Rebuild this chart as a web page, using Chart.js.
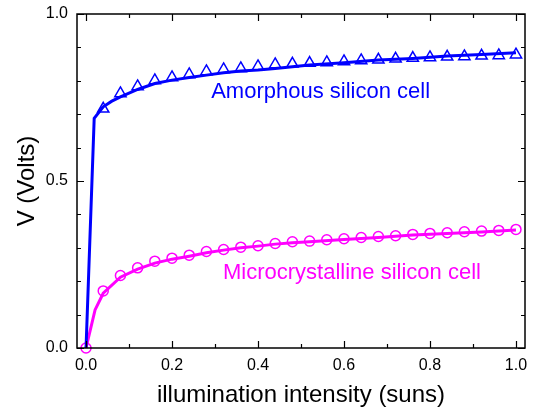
<!DOCTYPE html>
<html>
<head>
<meta charset="utf-8">
<script src="https://cdn.jsdelivr.net/npm/chart.js@4.4.1/dist/chart.umd.min.js"></script>
<style>
  html, body { margin: 0; padding: 0; background: #fff; }
</style>
</head>
<body>
<canvas id="chart" width="533" height="410"></canvas>
<script>
// measured points (illumination in suns, voltage in volts)
const amorphX = [0.04, 0.08, 0.12, 0.16, 0.20, 0.24, 0.28, 0.32, 0.36, 0.40, 0.44, 0.48, 0.52,
                 0.56, 0.60, 0.64, 0.68, 0.72, 0.76, 0.80, 0.84, 0.88, 0.92, 0.96, 1.00];
const amorphV = [0.716, 0.762, 0.783, 0.801, 0.810, 0.819, 0.828, 0.834, 0.837, 0.843, 0.849, 0.851, 0.853,
                 0.855, 0.858, 0.861, 0.863, 0.866, 0.868, 0.870, 0.872, 0.873, 0.875, 0.876, 0.878];

const microX = [0.00, 0.04, 0.08, 0.12, 0.16, 0.20, 0.24, 0.28, 0.32, 0.36, 0.40, 0.44, 0.48,
                0.52, 0.56, 0.60, 0.64, 0.68, 0.72, 0.76, 0.80, 0.84, 0.88, 0.92, 0.96, 1.00];
const microV = [0.000, 0.171, 0.217, 0.240, 0.260, 0.269, 0.278, 0.289, 0.295, 0.302, 0.306, 0.313, 0.318,
                0.320, 0.324, 0.327, 0.331, 0.334, 0.336, 0.340, 0.343, 0.345, 0.348, 0.350, 0.352, 0.355];

// fitted curves
const amorphFitX = [0, 0.019, 0.04, 0.06, 0.08, 0.12, 0.16, 0.20, 0.24, 0.28, 0.32, 0.36, 0.40,
                    0.44, 0.48, 0.52, 0.60, 0.68, 0.76, 0.84, 0.92, 1.00];
const amorphFitV = [0, 0.688, 0.722, 0.739, 0.752, 0.774, 0.792, 0.802, 0.810, 0.817, 0.824, 0.829, 0.832,
                    0.837, 0.842, 0.847, 0.854, 0.862, 0.867, 0.874, 0.879, 0.884];

const microFitX = [0, 0.021, 0.04, 0.08, 0.12, 0.16, 0.20, 0.24, 0.28, 0.32, 0.36, 0.40, 0.44,
                   0.48, 0.52, 0.60, 0.68, 0.76, 0.84, 0.92, 1.00];
const microFitV = [0, 0.114, 0.164, 0.212, 0.236, 0.254, 0.266, 0.275, 0.285, 0.293, 0.300, 0.305, 0.311,
                   0.315, 0.318, 0.325, 0.331, 0.338, 0.343, 0.347, 0.353];

// axis ticks
const xTickValues = [0, 0.2, 0.4, 0.6, 0.8, 1.0];
const xMinorValues = [0.1, 0.3, 0.5, 0.7, 0.9];
const yTickValues = [0, 0.5, 1.0];
const yMinorValues = [0.1, 0.2, 0.3, 0.4, 0.6, 0.7, 0.8, 0.9];

const BLUE = '#0000ff';
const MAGENTA = '#ff00ff';
const FONT = '"Liberation Sans", Arial, Helvetica, sans-serif';

function pts(xs, ys) {
    return xs.map((x, i) => ({ x: x, y: ys[i] }));
}

function noPad(s) {
    s.paddingTop = 0;
    s.paddingBottom = 0;
    s.paddingLeft = 0;
    s.paddingRight = 0;
}

// frame, inward ticks and curve labels
const framePlugin = {
    id: 'framePlugin',
    afterDatasetsDraw(chart, args, opts) {
        const { ctx, chartArea: a, scales: { x, y } } = chart;
        ctx.save();
        ctx.strokeStyle = '#000';
        ctx.lineWidth = 1.5;
        ctx.strokeRect(a.left, a.top, a.right - a.left, a.bottom - a.top);

        ctx.beginPath();
        const xt = (v, len) => {
            const px = Math.round(x.getPixelForValue(v)) + 0.5;
            ctx.moveTo(px, a.bottom); ctx.lineTo(px, a.bottom - len);
            ctx.moveTo(px, a.top); ctx.lineTo(px, a.top + len);
        };
        const yt = (v, len) => {
            const py = Math.round(y.getPixelForValue(v)) + 0.5;
            ctx.moveTo(a.left, py); ctx.lineTo(a.left + len, py);
            ctx.moveTo(a.right, py); ctx.lineTo(a.right - len, py);
        };
        xTickValues.forEach(v => xt(v, 7));
        xMinorValues.forEach(v => xt(v, 4));
        yTickValues.forEach(v => yt(v, 7));
        yMinorValues.forEach(v => yt(v, 4));
        ctx.lineWidth = 1.2;
        ctx.stroke();

        ctx.font = '22px ' + FONT;
        ctx.textAlign = 'left';
        ctx.textBaseline = 'alphabetic';
        opts.notes.forEach(n => {
            ctx.fillStyle = n.color;
            ctx.fillText(n.text, x.getPixelForValue(n.x), y.getPixelForValue(n.y));
        });
        ctx.restore();
    }
};

new Chart(document.getElementById('chart'), {
    type: 'scatter',
    data: {
        datasets: [
            {
                label: 'Amorphous fit',
                data: pts(amorphFitX, amorphFitV),
                showLine: true,
                borderColor: BLUE,
                borderWidth: 3,
                pointRadius: 0,
                clip: false
            },
            {
                label: 'Microcrystalline fit',
                data: pts(microFitX, microFitV),
                showLine: true,
                borderColor: MAGENTA,
                borderWidth: 3,
                pointRadius: 0,
                clip: false
            },
            {
                label: 'Amorphous silicon cell',
                data: pts(amorphX, amorphV),
                pointStyle: 'triangle',
                pointRadius: 6.5,
                borderColor: BLUE,
                backgroundColor: 'rgba(0,0,0,0)',
                borderWidth: 1.5,
                clip: false
            },
            {
                label: 'Microcrystalline silicon cell',
                data: pts(microX, microV),
                pointStyle: 'circle',
                pointRadius: 5,
                borderColor: MAGENTA,
                backgroundColor: 'rgba(0,0,0,0)',
                borderWidth: 1.5,
                clip: false
            }
        ]
    },
    options: {
        responsive: false,
        animation: false,
        layout: { padding: { top: 14, right: 8, left: 0, bottom: 0 } },
        plugins: {
            legend: { display: false },
            tooltip: { enabled: false },
            framePlugin: {
                notes: [
                    { text: 'Amorphous silicon cell', x: 0.291, y: 0.749, color: BLUE },
                    { text: 'Microcrystalline silicon cell', x: 0.3186, y: 0.2066, color: MAGENTA }
                ]
            }
        },
        scales: {
            x: {
                type: 'linear',
                min: -0.021,
                max: 1.021,
                afterBuildTicks: s => { s.ticks = xTickValues.map(v => ({ value: v })); },
                afterFit: s => { s.height = 62; noPad(s); },
                grid: { display: false, drawTicks: false },
                border: { display: false },
                ticks: {
                    padding: 8,
                    color: '#000',
                    font: { family: FONT, size: 16 },
                    maxRotation: 0,
                    callback: v => v.toFixed(1)
                },
                title: {
                    display: true,
                    text: 'illumination intensity (suns)',
                    color: '#000',
                    font: { family: FONT, size: 24 },
                    padding: { top: 0, bottom: 0 }
                }
            },
            y: {
                type: 'linear',
                min: 0,
                max: 1,
                afterBuildTicks: s => { s.ticks = yTickValues.map(v => ({ value: v })); },
                afterFit: s => { s.width = 77; noPad(s); },
                grid: { display: false, drawTicks: false },
                border: { display: false },
                ticks: {
                    padding: 9,
                    color: '#000',
                    font: { family: FONT, size: 16 },
                    callback: v => v.toFixed(1)
                },
                title: {
                    display: true,
                    text: 'V (Volts)',
                    color: '#000',
                    font: { family: FONT, size: 24 },
                    padding: { top: 13, bottom: 0 }
                }
            }
        }
    },
    plugins: [framePlugin]
});
</script>
</body>
</html>
